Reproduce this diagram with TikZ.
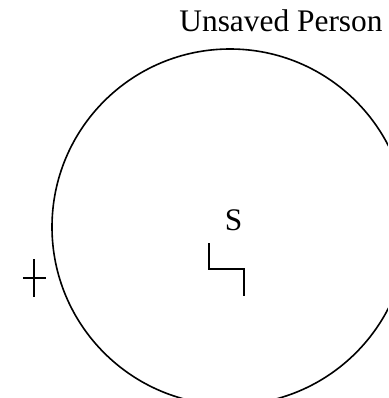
\documentclass[tikz,border=0pt]{standalone}
\usepackage{fontspec}
\setmainfont{Liberation Serif}
\usepackage{tikz}
\usetikzlibrary{positioning}

\begin{document}
\begin{tikzpicture}[x=0.5pt,y=0.5pt]
  \useasboundingbox (0,0) rectangle (388,398);
  \clip (0,0) rectangle (388,398);
  \node[anchor=base,inner sep=0pt,font=\fontsize{15.7}{18}\selectfont] (title) at (281,367) {Unsaved Person};
  \draw[line width=0.8pt] (230,171) circle (178);
  \node[anchor=base,inner sep=0pt,font=\fontsize{15.7}{18}\selectfont] (sin) at (233.5,168) {S};
  \draw[line width=1pt] (209,155)--(209,129)--(244,129)--(244,102);
  \draw[line width=1.1pt] (23,120)--(46,120);
  \draw[line width=1.1pt] (34,139)--(34,101);
\end{tikzpicture}
\end{document}
